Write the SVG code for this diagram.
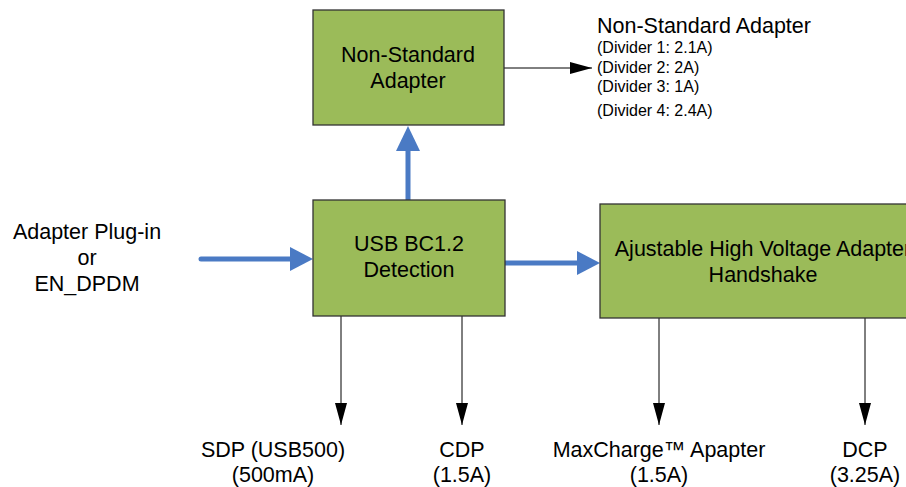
<svg xmlns="http://www.w3.org/2000/svg" width="906" height="487" viewBox="0 0 906 487">
<defs>
<style>
.box{fill:#9bbb59;stroke:#333;stroke-width:1.3}
.t{font-family:"Liberation Sans",Arial,sans-serif;font-size:21.5px;fill:#000;text-anchor:middle}
.s{font-family:"Liberation Sans",Arial,sans-serif;font-size:16px;fill:#000}
.blue{stroke:#4a7ac4;stroke-width:5;fill:none;stroke-linecap:round}
.thin{stroke:#000;stroke-width:1;fill:none}
</style>
<marker id="ah" markerWidth="22" markerHeight="12" refX="22" refY="6" orient="auto" markerUnits="userSpaceOnUse">
<path d="M0,0 L22,6 L0,12 Z" fill="#000"/>
</marker>
</defs>
<rect width="906" height="487" fill="#fff"/>
<g id="connectors">
<line class="thin" x1="504" y1="68" x2="592" y2="68" marker-end="url(#ah)"/>
<line class="blue" x1="408" y1="200" x2="408" y2="150"/>
<path d="M396,151 L408,126 L420,151 Z" fill="#4a7ac4"/>
<line class="blue" x1="201" y1="259" x2="291" y2="259"/>
<path d="M290,247 L313,259 L290,271 Z" fill="#4a7ac4"/>
<line class="blue" x1="505" y1="263" x2="578" y2="263"/>
<path d="M577,251 L600,263 L577,275 Z" fill="#4a7ac4"/>
<line class="thin" x1="341" y1="316" x2="341" y2="425" marker-end="url(#ah)"/>
<line class="thin" x1="462" y1="316" x2="462" y2="425" marker-end="url(#ah)"/>
<line class="thin" x1="659" y1="318" x2="659" y2="425" marker-end="url(#ah)"/>
<line class="thin" x1="865" y1="318" x2="865" y2="425" marker-end="url(#ah)"/>
</g>
<g id="nonstd">
<rect class="box" x="313" y="10" width="191" height="115"/>
<text class="t" x="408" y="62">Non-Standard</text>
<text class="t" x="408" y="88">Adapter</text>
</g>
<g id="usb">
<rect class="box" x="313" y="200" width="192" height="116"/>
<text class="t" x="409" y="251">USB BC1.2</text>
<text class="t" x="409" y="277">Detection</text>
</g>
<g id="hv">
<rect class="box" x="600" y="204" width="330" height="114"/>
<text class="t" x="763" y="256">Ajustable High Voltage Adapter</text>
<text class="t" x="763" y="282">Handshake</text>
</g>
<g id="labels">
<text class="t" x="87" y="239">Adapter Plug-in</text>
<text class="t" x="87" y="265">or</text>
<text class="t" x="87" y="291">EN_DPDM</text>
<text class="t" x="597" y="33" style="text-anchor:start">Non-Standard Adapter</text>
<text class="s" x="597" y="53">(Divider 1: 2.1A)</text>
<text class="s" x="597" y="73">(Divider 2: 2A)</text>
<text class="s" x="597" y="92">(Divider 3: 1A)</text>
<text class="s" x="597" y="116">(Divider 4: 2.4A)</text>
<text class="t" x="273" y="457">SDP (USB500)</text>
<text class="t" x="273" y="482">(500mA)</text>
<text class="t" x="462" y="457">CDP</text>
<text class="t" x="462" y="482">(1.5A)</text>
<text class="t" x="659" y="457">MaxCharge™ Apapter</text>
<text class="t" x="659" y="482">(1.5A)</text>
<text class="t" x="865" y="457">DCP</text>
<text class="t" x="865" y="482">(3.25A)</text>
</g>
</svg>
